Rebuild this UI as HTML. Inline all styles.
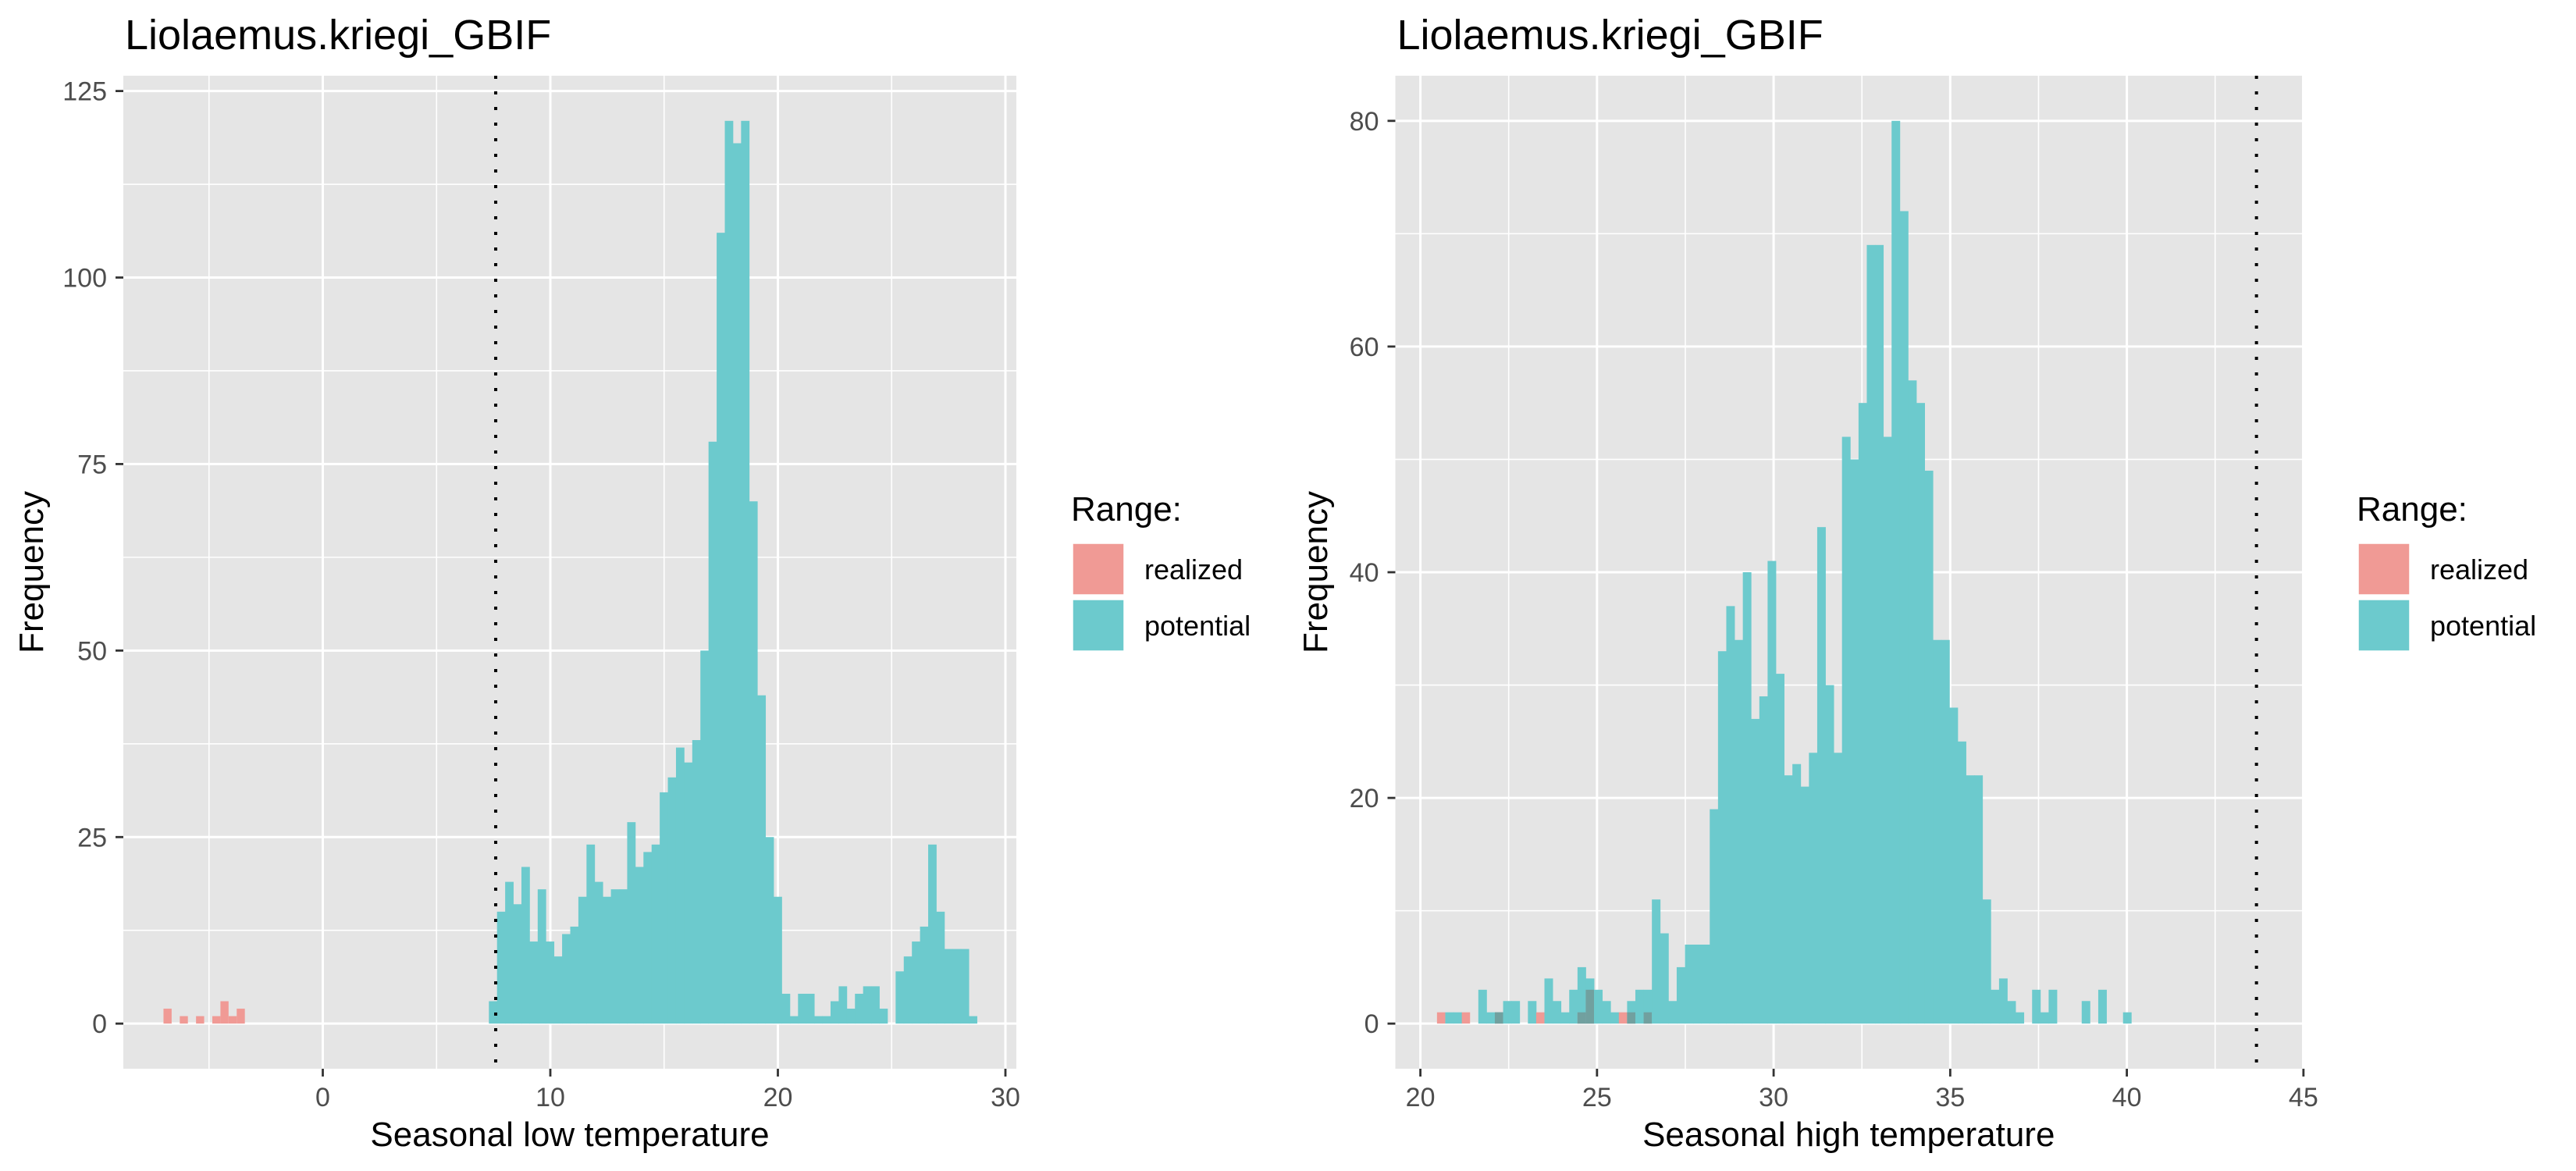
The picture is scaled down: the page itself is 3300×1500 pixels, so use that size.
<!DOCTYPE html>
<html><head><meta charset="utf-8"><style>
html,body{margin:0;padding:0;background:#fff;}
svg{display:block;font-family:"Liberation Sans",Arial,sans-serif;}
</style></head><body>
<svg id="chart" width="3300" height="1500" viewBox="0 0 3300 1500" xmlns="http://www.w3.org/2000/svg">
<rect width="3300" height="1500" fill="#fff"/>
<g id="left"></g>
<g id="right"></g>
</svg>
<script>
// ---- Left chart data ----
const lowBinStart = -7.0;
const lowBinWidth = 0.3575;
const lowRealized = [2,0,1,0,1,0,1,3,1,2,0,0,0,0,0,0,0,0,0,0,0,0,0,0,0,0,0,0,0,0,0,0,0,0,0,0,0,0,0,0,0,0,0,0,0,0,0,0,0,0,0,0,0,0,0,0,0,0,0,0,0,0,0,0,0,0,0,0,0,0,0,0,0,0,0,0,0,0,0,0,0,0,0,0,0,0,0,0,0,0,0,0,0,0,0,0,0,0,0,0];
const lowPotential = [0,0,0,0,0,0,0,0,0,0,0,0,0,0,0,0,0,0,0,0,0,0,0,0,0,0,0,0,0,0,0,0,0,0,0,0,0,0,0,0,
3,15,19,16,21,11,18,11,9,12,13,17,24,19,17,18,18,27,21,23,24,31,33,37,35,38,50,78,106,121,118,121,70,44,25,17,4,1,4,4,1,1,3,5,2,4,5,5,2,0,7,9,11,13,24,15,10,10,10,1];
const lowThreshold = 7.6;
const lowXMajor = [0,10,20,30];
const lowXMinor = [-5,5,15,25];
const lowYMajor = [0,25,50,75,100,125];
const lowYMinor = [12.5,37.5,62.5,87.5,112.5];

// ---- Right chart data ----
const highBinStart = 20.47;
const highBinWidth = 0.234;
const highRealized = [1,0,0,1,0,0,0,1,0,0,0,0,1,0,0,0,0,1,3,0,0,0,1,1,0,1,0,0,0,0,0,0,0,0,0,0,0,0,0,0,0,0,0,0,0,0,0,0,0,0,0,0,0,0,0,0,0,0,0,0,0,0,0,0,0,0,0,0,0,0,0,0,0,0,0,0,0,0,0,0,0,0,0,0];
const highPotential = [0,1,1,0,0,3,1,1,2,2,0,2,0,4,2,1,3,5,4,3,2,1,0,2,3,3,11,8,2,5,7,7,7,19,33,37,34,40,27,29,41,31,22,23,21,24,44,30,24,52,50,55,69,69,52,80,72,57,55,49,34,34,28,25,22,22,11,3,4,2,1,0,3,1,3,0,0,0,2,0,3,0,0,1];
const highThreshold = 43.67;
const highXMajor = [20,25,30,35,40,45];
const highXMinor = [22.5,27.5,32.5,37.5,42.5];
const highYMajor = [0,20,40,60,80];
const highYMinor = [10,30,50,70];

const NS = "http://www.w3.org/2000/svg";
function mk(parent, tag, attrs, text){
  const e = document.createElementNS(NS, tag);
  for (const k in attrs) e.setAttribute(k, attrs[k]);
  if (text !== undefined) e.textContent = text;
  parent.appendChild(e);
  return e;
}

function drawPanel(g, cfg){
  const P = cfg.panel;
  const sx = v => P.x0 + (v - cfg.xmin) / (cfg.xmax - cfg.xmin) * (P.x1 - P.x0);
  const sy = v => P.y1 - (v - cfg.ymin) / (cfg.ymax - cfg.ymin) * (P.y1 - P.y0);
  const bg = mk(g,'rect',{x:P.x0,y:P.y0,width:P.x1-P.x0,height:P.y1-P.y0,fill:'#E5E5E5'});
  
  
  cfg.yMinor.forEach(v=>{ const l=mk(g,'line',{x1:P.x0,x2:P.x1,y1:sy(v),y2:sy(v),stroke:'#fff','stroke-width':1.6});
      });
  cfg.xMinor.forEach(v=>{ const l=mk(g,'line',{x1:sx(v),x2:sx(v),y1:P.y0,y2:P.y1,stroke:'#fff','stroke-width':1.6});
      });
  cfg.yMajor.forEach(v=>{ const l=mk(g,'line',{x1:P.x0,x2:P.x1,y1:sy(v),y2:sy(v),stroke:'#fff','stroke-width':3});
      });
  cfg.xMajor.forEach(v=>{ const l=mk(g,'line',{x1:sx(v),x2:sx(v),y1:P.y0,y2:P.y1,stroke:'#fff','stroke-width':3});
      });
  const n = cfg.potential.length;
  for (let i=0;i<n;i++){
    const x0 = sx(cfg.binStart + i*cfg.binWidth), x1 = sx(cfg.binStart + (i+1)*cfg.binWidth);
    const r = cfg.realized[i], p = cfg.potential[i];
    if (r>0){
      const b = mk(g,'rect',{x:x0,y:sy(r),width:x1-x0,height:sy(0)-sy(r),fill:'#F09A95'});
      
      
    }
    if (p>0){
      const b = mk(g,'rect',{x:x0,y:sy(p),width:x1-x0+0.4,height:sy(0)-sy(p),fill:'#6CCACD'});
      
      
    }
    if (r>0 && p>0){
      const m = Math.min(r,p);
      const b = mk(g,'rect',{x:x0,y:sy(m),width:x1-x0,height:sy(0)-sy(m),fill:'#71A09F'});
      
      
    }
  }
  const vl = mk(g,'line',{x1:sx(cfg.threshold),x2:sx(cfg.threshold),y1:P.y0,y2:P.y1,stroke:'#000','stroke-width':4,'stroke-dasharray':'4 16'});
  
  
  cfg.yMajor.forEach(v=>{
    const t=mk(g,'line',{x1:P.x0-10,x2:P.x0,y1:sy(v),y2:sy(v),stroke:'#333','stroke-width':2.8});
     
    const tl=mk(g,'text',{x:P.x0-21,y:sy(v)+12,'text-anchor':'end','font-size':34,fill:'#4D4D4D'},String(v));
     
  });
  cfg.xMajor.forEach(v=>{
    const t=mk(g,'line',{x1:sx(v),x2:sx(v),y1:P.y1,y2:P.y1+10,stroke:'#333','stroke-width':2.8});
     
    const tl=mk(g,'text',{x:sx(v),y:P.y1+48,'text-anchor':'middle','font-size':34,fill:'#4D4D4D'},String(v));
     
  });
  const ti=mk(g,'text',{x:P.x0+2,y:63,'font-size':54,fill:'#000'},cfg.title);
   
  const xt=mk(g,'text',{x:(P.x0+P.x1)/2,y:1468,'text-anchor':'middle','font-size':44,fill:'#000'},cfg.xTitle);
   
  const cy=(P.y0+P.y1)/2;
  const yt=mk(g,'text',{x:0,y:0,'text-anchor':'middle','font-size':44,fill:'#000',transform:`translate(${cfg.yTitleX},${cy}) rotate(-90)`},'Frequency');
   
  const L = cfg.legendX;
  const lg = mk(g,'g',{});
   
  const lt=mk(lg,'text',{x:L-2,y:667,'font-size':44,fill:'#000'},'Range:');
   
  const k1=mk(lg,'rect',{x:L,y:696,width:66,height:66,fill:'#F09A95',stroke:'#fff','stroke-width':1.5});
   
  const k2=mk(lg,'rect',{x:L,y:768,width:66,height:66,fill:'#6CCACD',stroke:'#fff','stroke-width':1.5});
   
  const t1=mk(lg,'text',{x:L+92,y:742,'font-size':36,fill:'#000'},'realized');
   
  const t2=mk(lg,'text',{x:L+92,y:814,'font-size':36,fill:'#000'},'potential');
   
}

drawPanel(document.getElementById('left'), {
  panel:{x0:158,x1:1302,y0:97,y1:1369},
  xmin:(158-413.5)/29.15, xmax:(1302-413.5)/29.15, ymin:-6.05, ymax:127.05,
  binStart:lowBinStart, binWidth:lowBinWidth, realized:lowRealized, potential:lowPotential,
  threshold:lowThreshold, xMajor:lowXMajor, xMinor:lowXMinor, yMajor:lowYMajor, yMinor:lowYMinor,
  title:'Liolaemus.kriegi_GBIF', xTitle:'Seasonal low temperature', yTitleX:55, legendX:1374
});
drawPanel(document.getElementById('right'), {
  panel:{x0:1787.5,x1:2949,y0:97,y1:1369},
  xmin:20+(1787.5-1819.6)/45.25, xmax:20+(2949-1819.6)/45.25, ymin:-4, ymax:84,
  binStart:highBinStart, binWidth:highBinWidth, realized:highRealized, potential:highPotential,
  threshold:highThreshold, xMajor:highXMajor, xMinor:highXMinor, yMajor:highYMajor, yMinor:highYMinor,
  title:'Liolaemus.kriegi_GBIF', xTitle:'Seasonal high temperature', yTitleX:1700, legendX:3021
});
</script>
</body></html>
